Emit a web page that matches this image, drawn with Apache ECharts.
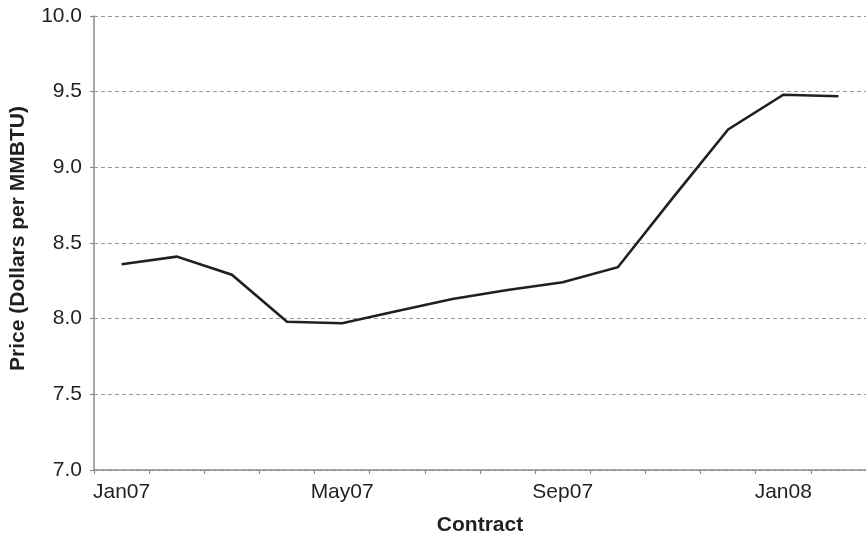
<!DOCTYPE html>
<html>
<head>
<meta charset="utf-8">
<script src="https://cdn.jsdelivr.net/npm/echarts@6/dist/echarts.min.js"></script>
<style>
  html, body { margin: 0; padding: 0; background: #fff; }
  #chart { width: 866px; height: 541px; }
</style>
</head>
<body>
<div id="chart"></div>
<script>
// Natural gas futures settlement prices by contract month
const contracts = ['Jan07', 'Feb07', 'Mar07', 'Apr07', 'May07', 'Jun07', 'Jul07',
                   'Aug07', 'Sep07', 'Oct07', 'Nov07', 'Dec07', 'Jan08', 'Feb08'];
const prices = [8.36, 8.41, 8.29, 7.98, 7.97, 8.05, 8.13, 8.19, 8.24, 8.34, 8.80, 9.25, 9.48, 9.47];

const yMin = 7.0;
const yMax = 10.0;
const yStep = 0.5;

const font = '"Liberation Sans", Arial, Helvetica, sans-serif';
const textColor = '#231f20';
const axisColor = '#8c8c8c';

const chart = echarts.init(document.getElementById('chart'), null, { renderer: 'canvas' });

chart.setOption({
  animation: false,
  backgroundColor: '#ffffff',
  grid: { left: 93.5, top: 16, width: 775, height: 460.5, containLabel: false },
  xAxis: {
    type: 'category',
    data: contracts,
    boundaryGap: true,
    name: 'Contract',
    nameLocation: 'middle',
    nameGap: 45,
    nameTextStyle: { fontFamily: font, fontSize: 21, fontWeight: 'bold', color: textColor },
    axisLine: { show: true, lineStyle: { color: axisColor, width: 1.5 } },
    axisTick: { show: true, length: 4, interval: 0, alignWithLabel: false, lineStyle: { color: axisColor, width: 1.2 } },
    axisLabel: { interval: 3, margin: 12, fontFamily: font, fontSize: 21, color: textColor },
    splitLine: { show: false }
  },
  yAxis: {
    type: 'value',
    min: yMin,
    max: yMax,
    interval: yStep,
    name: 'Price (Dollars per MMBTU)',
    nameLocation: 'middle',
    nameGap: 65,
    nameTextStyle: {
      fontFamily: font, fontSize: 21, fontWeight: 'bold', color: textColor,
      padding: [0, 0, 0, 9]
    },
    axisLine: { show: true, lineStyle: { color: axisColor, width: 1.5 } },
    axisTick: { show: true, length: 4, lineStyle: { color: axisColor, width: 1.2 } },
    axisLabel: {
      margin: 12,
      fontFamily: font,
      fontSize: 21,
      color: textColor,
      formatter: v => v.toFixed(1)
    },
    splitLine: { show: true, lineStyle: { color: '#9a9a9a', width: 1.2, type: [4, 3] } }
  },
  series: [{
    type: 'line',
    data: prices,
    showSymbol: false,
    symbol: 'none',
    smooth: false,
    lineStyle: { color: '#231f20', width: 2.6, join: 'miter' },
    z: 3
  }]
});
</script>
</body>
</html>
